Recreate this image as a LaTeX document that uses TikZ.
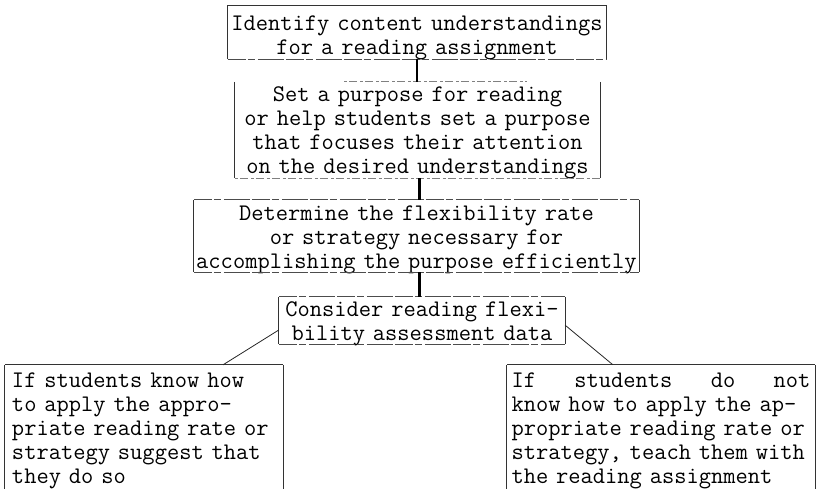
\documentclass[tikz,border=0pt]{standalone}
\usetikzlibrary{calc}
\begin{document}
\begin{tikzpicture}[x=1pt,y=-1pt,
  every node/.style={font=\fontsize{23.8}{24}\selectfont\ttfamily, inner sep=0pt, align=center},
  box/.style={draw=none},
  side/.style={draw=black!80, line width=0.7pt},
  hline/.style={draw=black!70, line width=0.6pt, dash pattern=on 18pt off 2pt on 7pt off 3pt on 26pt off 2pt},
  faint/.style={draw=black!50, line width=0.6pt, dash pattern=on 3pt off 2pt on 8pt off 3pt},
  link/.style={line width=2.4pt, black},
  branch/.style={line width=0.8pt, black!85}]
\useasboundingbox (0,0) rectangle (817,489);

% frames (empty nodes giving the box outlines)
\node[box, minimum width=378pt, minimum height=53pt] (b1) at (417,32.5) {};
\node[box, minimum width=365pt, minimum height=96pt] (b2) at (417.5,130) {};
\node[box, minimum width=445pt, minimum height=72pt] (b3) at (416.5,236) {};
\node[box, minimum width=286pt, minimum height=47pt] (b4) at (422,320.5) {};
\node[box, minimum width=278pt, minimum height=124pt] (lb) at (144,427) {};
\node[box, minimum width=308pt, minimum height=124pt] (rb) at (661,427) {};

% texts
\node[text width=374pt] (t1) at ($(b1.center)+(0,5.5)$)
  {Identify content understandings\\for a reading assignment};
\node[text width=362pt] (t2) at ($(b2.center)+(0,3)$)
  {Set a purpose for reading\\or help students set a purpose\\that focuses their attention\\on the desired understandings};
\node[text width=443pt] (t3) at ($(b3.center)+(0,4)$)
  {Determine the flexibility rate\\or strategy necessary for\\accomplishing the purpose efficiently};
\node[text width=280pt] (t4) at ($(b4.center)+(0,3)$)
  {Consider reading flexi-\\bility assessment data};
\node[text width=266pt, align=left] (t5) at ($(lb.center)+(1,4)$)
  {If students know how\\to apply the appro-\\priate reading rate or\\strategy suggest that\\they do so};
\node[text width=299pt, align=left] (t6) at ($(rb.center)+(0,4)$)
  {\hbox to\linewidth{If\hfill students\hfill do\hfill not}\\know how to apply the ap-\\propriate reading rate or\\strategy, teach them with\\the reading assignment};

% box 1
\draw[side] (b1.south west) -- (b1.north west) -- (b1.north east) -- (b1.south east);
\draw[hline] (b1.south west) -- (b1.south east);
% box 2
\draw[side] (b2.north west) -- (b2.south west);
\draw[side] (b2.north east) -- (b2.south east);
\draw[faint] ($(b2.north west)!0.3!(b2.north east)$) -- ($(b2.north west)!0.8!(b2.north east)$);
\draw[faint] (b2.south west) -- (b2.south east);
% box 3
\draw[side] (b3.north west) -- (b3.south west);
\draw[side] (b3.north east) -- (b3.south east);
\draw[hline] (b3.north west) -- (b3.north east);
\draw[hline] (b3.south west) -- (b3.south east);
% box 4
\draw[side] (b4.north west) -- (b4.south west);
\draw[side] (b4.north east) -- (b4.south east);
\draw[hline] (b4.north west) -- (b4.north east);
\draw[hline] (b4.south west) -- (b4.south east);
% bottom boxes (open at the page edge)
\draw[side] (lb.south west) -- (lb.north west);
\draw[side] (lb.north east) -- (lb.south east);
\draw[side] (lb.north west) -- (lb.north east);
\draw[side] (rb.south west) -- (rb.north west);
\draw[side] (rb.north east) -- (rb.south east);
\draw[side] (rb.north west) -- (rb.north east);

% connectors
\draw[link] (b1.south) -- (b1.south |- b2.north);
\draw[link] ([xshift=2pt]b2.south) -- ([xshift=2pt]b2.south |- b3.north);
\draw[link] ([xshift=3pt]b3.south) -- ([xshift=3pt]b3.south |- b4.north);
\draw[branch] ($(b4.south west)!0.3!(b4.north west)$) -- ($(lb.north west)!0.784!(lb.north east)$);
\draw[branch] ($(b4.south east)!0.4!(b4.north east)$) -- ($(rb.north west)!0.344!(rb.north east)$);
\end{tikzpicture}
\end{document}
